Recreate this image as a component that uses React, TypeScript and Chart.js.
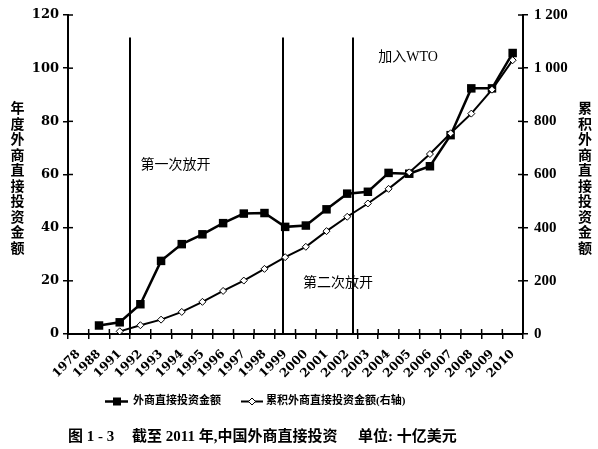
import React, { useEffect, useRef } from 'react';
import { Chart, registerables } from 'chart.js';

Chart.register(...registerables);

const years = ['1978', '1988', '1991', '1992', '1993', '1994', '1995', '1996', '1997', '1998', '1999', '2000', '2001', '2002', '2003', '2004', '2005', '2006', '2007', '2008', '2009', '2010'];
const fdiAnnual = [null, 3.2, 4.4, 11.2, 27.5, 33.8, 37.5, 41.7, 45.3, 45.5, 40.3, 40.8, 46.9, 52.8, 53.5, 60.6, 60.3, 63.1, 74.8, 92.4, 92.4, 105.7];
const fdiCumulative = [null, null, 10, 33, 54, 83, 121, 162, 201, 245, 289, 328, 387, 441, 491, 546, 608, 677, 755, 829, 919, 1030];

const annualLabel = '外商直接投资金额';
const cumulativeLabel = '累积外商直接投资金额(右轴)';
const leftTitle = '年度外商直接投资金额';
const rightTitle = '累积外商直接投资金额';
const captionParts = ['图 1 - 3', '截至 2011 年,中国外商直接投资', '单位: 十亿美元'];
const milestoneLabels = ['第一次放开', '第二次放开', '加入WTO'];

const CJK = '"Noto Sans CJK SC"';

const overlayPlugin = {
  id: 'overlay',
  beforeDatasetsDraw(chart: any) {
    const { ctx, scales } = chart;
    const x = scales.x;
    const y = scales.y;
    ctx.save();
    ctx.strokeStyle = '#000';
    ctx.lineWidth = 2;
    const lineIdx = [2.5, 9.9, 13.3];
    const top = y.getPixelForValue(111.5);
    const bottom = y.getPixelForValue(0);
    lineIdx.forEach((v) => {
      const px = Math.round(x.getPixelForValue(v));
      ctx.beginPath();
      ctx.moveTo(px, top);
      ctx.lineTo(px, bottom);
      ctx.stroke();
    });
    ctx.restore();
  },
  afterDraw(chart: any) {
    const { ctx, scales } = chart;
    const x = scales.x;
    const y = scales.y;
    const y1 = scales.y1;
    ctx.save();
    ctx.strokeStyle = '#000';
    ctx.fillStyle = '#000';
    ctx.lineWidth = 1.5;
    // inner halves of tick marks
    const inner = 5;
    y.ticks.forEach((t: any) => {
      const py = y.getPixelForValue(t.value);
      ctx.beginPath();
      ctx.moveTo(x.left, py);
      ctx.lineTo(x.left + inner, py);
      ctx.stroke();
    });
    y1.ticks.forEach((t: any) => {
      const py = y1.getPixelForValue(t.value);
      ctx.beginPath();
      ctx.moveTo(x.right, py);
      ctx.lineTo(x.right - inner, py);
      ctx.stroke();
    });
    for (let i = 0; i <= years.length; i++) {
      const px = x.getPixelForValue(i - 0.5);
      ctx.beginPath();
      ctx.moveTo(px, y.bottom);
      ctx.lineTo(px, y.bottom - inner);
      ctx.stroke();
    }

    // annotations
    ctx.textBaseline = 'middle';
    ctx.textAlign = 'left';
    ctx.font = `14px "Liberation Serif", ${CJK}`;
    ctx.fillText(milestoneLabels[0], x.getPixelForValue(3.0), y.getPixelForValue(63.5));
    ctx.fillText(milestoneLabels[1], x.getPixelForValue(10.86), y.getPixelForValue(19.2));
    ctx.fillText(milestoneLabels[2], x.getPixelForValue(14.5), y.getPixelForValue(104));

    // axis titles (vertical stacked)
    ctx.font = `bold 14px ${CJK}`;
    ctx.textAlign = 'center';
    const step = 15.5;
    [...leftTitle].forEach((ch, i) => ctx.fillText(ch, 17.5, 108 + i * step));
    [...rightTitle].forEach((ch, i) => ctx.fillText(ch, 585, 108 + i * step));

    // legend
    const ly = 401.5;
    ctx.lineWidth = 2.5;
    ctx.beginPath();
    ctx.moveTo(105, ly);
    ctx.lineTo(128, ly);
    ctx.stroke();
    ctx.fillRect(117 - 4, ly - 4, 8, 8);
    ctx.lineWidth = 2;
    ctx.beginPath();
    ctx.moveTo(241, ly);
    ctx.lineTo(263, ly);
    ctx.stroke();
    ctx.fillStyle = '#fff';
    ctx.lineWidth = 1;
    ctx.beginPath();
    ctx.moveTo(252 - 3.5, ly);
    ctx.lineTo(252, ly - 3.5);
    ctx.lineTo(252 + 3.5, ly);
    ctx.lineTo(252, ly + 3.5);
    ctx.closePath();
    ctx.fill();
    ctx.stroke();
    ctx.fillStyle = '#000';
    ctx.textAlign = 'left';
    ctx.font = `bold 11px "Liberation Serif", ${CJK}`;
    ctx.fillText(annualLabel, 133, ly);
    ctx.fillText(cumulativeLabel, 266, ly);

    // caption
    ctx.font = `bold 15px "Liberation Serif", ${CJK}`;
    const cy = 437;
    ctx.fillText(captionParts[0], 68, cy);
    ctx.fillText(captionParts[1], 132, cy);
    ctx.fillText(captionParts[2], 358, cy);
    ctx.restore();
  },
};

export default function App() {
  const ref = useRef<HTMLCanvasElement>(null);
  useEffect(() => {
    if (!ref.current) return;
    const chart = new Chart(ref.current, {
      type: 'line',
      data: {
        labels: years,
        datasets: [
          {
            label: annualLabel,
            data: fdiAnnual,
            yAxisID: 'y',
            borderColor: '#000',
            backgroundColor: '#000',
            borderWidth: 2.5,
            pointStyle: 'rect',
            pointRadius: 6,
            pointBackgroundColor: '#000',
            pointBorderColor: '#000',
            pointBorderWidth: 0,
            tension: 0,
            order: 2,
          },
          {
            label: cumulativeLabel,
            data: fdiCumulative,
            yAxisID: 'y1',
            borderColor: '#000',
            backgroundColor: '#fff',
            borderWidth: 2,
            pointStyle: 'rectRot',
            pointRadius: 3.5,
            pointBackgroundColor: '#fff',
            pointBorderColor: '#000',
            pointBorderWidth: 1,
            tension: 0,
            order: 1,
          },
        ],
      },
      options: {
        responsive: false,
        animation: false,
        layout: { padding: { top: 15, left: 0, right: 0, bottom: 59 } },
        plugins: {
          legend: { display: false },
          tooltip: { enabled: false },
          title: { display: false },
        },
        scales: {
          x: {
            type: 'category',
            offset: true,
            afterFit: (s: any) => { s.height = 56; },
            grid: { offset: true, drawOnChartArea: false, drawTicks: true, tickLength: 5, color: '#000', lineWidth: 1.5 },
            border: { display: true, color: '#000', width: 2 },
            ticks: {
              autoSkip: false,
              maxRotation: 45,
              minRotation: 45,
              padding: 8,
              color: '#000',
              font: { family: '"DejaVu Serif"', size: 12, weight: 'bold' },
            },
          },
          y: {
            type: 'linear',
            position: 'left',
            min: 0,
            max: 120,
            afterFit: (s: any) => { s.width = 68; },
            grid: { drawOnChartArea: false, drawTicks: true, tickLength: 5, color: '#000', lineWidth: 1.5 },
            border: { display: true, color: '#000', width: 2 },
            ticks: {
              stepSize: 20,
              padding: 4,
              color: '#000',
              font: { family: '"DejaVu Serif"', size: 13, weight: 'bold' },
            },
          },
          y1: {
            type: 'linear',
            position: 'right',
            min: 0,
            max: 1200,
            afterFit: (s: any) => { s.width = 75; },
            grid: { drawOnChartArea: false, drawTicks: true, tickLength: 5, color: '#000', lineWidth: 1.5 },
            border: { display: true, color: '#000', width: 2 },
            ticks: {
              stepSize: 200,
              padding: 6,
              color: '#000',
              font: { family: '"Liberation Serif"', size: 15, weight: 'bold' },
              callback: (v: any) => String(v).replace(/\B(?=(\d{3})+(?!\d))/g, ' '),
            },
          },
        },
      },
      plugins: [overlayPlugin],
    });
    return () => chart.destroy();
  }, []);
  return (
    <div style={{ position: 'absolute', left: 0, top: 0, width: 598, height: 449, background: '#fff' }}>
      <canvas ref={ref} width={598} height={449} />
    </div>
  );
}
